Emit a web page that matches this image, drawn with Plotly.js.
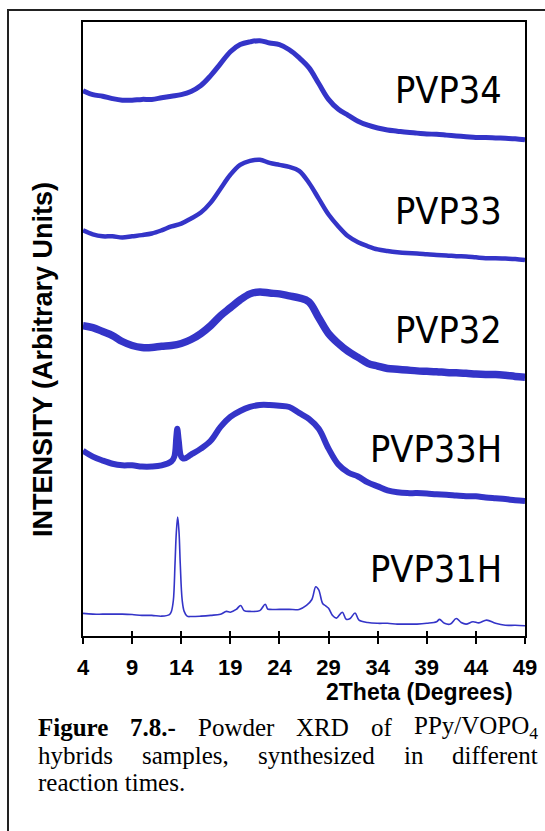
<!DOCTYPE html>
<html>
<head>
<meta charset="utf-8">
<script src="https://cdn.plot.ly/plotly-3.0.1.min.js"></script>
<style>
  html, body { margin: 0; padding: 0; background: #fff; }
  #chart { width: 545px; height: 831px; }
</style>
</head>
<body>
<div id="chart"></div>
<script>
// ---- data (intensity in arbitrary units, stacked offsets as in the figure) ----
const xStep = [4,5,6,7,8,9,10,11,12,13,14,15,16,17,18,19,20,21,22,23,24,25,26,27,28,29,30,31,32,33,34,35,36,37,38,39,40,41,42,43,44,45,46,47,48,49];

const pvp34 = [1374,1364,1360,1354,1350,1350,1352,1352,1356,1360,1364,1372,1387,1412,1442,1472,1490,1497,1500,1494,1490,1477,1457,1432,1392,1352,1327,1312,1297,1287,1280,1275,1272,1269,1267,1265,1264,1262,1260,1258,1256,1256,1255,1254,1253,1250];

const pvp33 = [1022,1012,1007,1007,1004,1007,1010,1014,1022,1032,1039,1052,1067,1092,1127,1162,1187,1197,1200,1192,1187,1182,1172,1142,1102,1062,1032,1007,992,982,974,970,967,965,964,962,960,959,957,956,954,952,952,951,950,947];

const pvp32 = [782,777,767,757,742,732,727,727,730,732,737,747,762,782,807,827,847,862,867,864,862,857,852,842,802,762,737,717,702,687,680,674,672,670,668,667,666,664,663,662,660,659,659,657,654,652];

const x33H = [4,5,6,7,8,9,10,11,12,13,13.3,13.5,13.6,13.75,14,14.3,15,16,17,18,19,20,21,22,23,24,25,26,27,28,29,30,31,32,33,34,35,36,37,38,39,40,41,42,43,44,45,46,47,48,49];
const pvp33H = [467,452,442,434,430,430,427,427,430,440,452,502,522,492,452,447,457,472,492,527,552,567,577,582,582,580,577,562,547,522,472,432,412,402,387,377,367,362,360,360,359,357,356,354,352,352,349,347,345,342,340];

const x31H = [4,5,6,7,8,9,10,11,12,12.8,13.0,13.2,13.37,13.5,13.64,13.78,13.9,14.1,14.3,14.6,15,16,17,18,18.6,19,19.6,20.05,20.4,21,22,22.55,22.8,23,24,25,26,26.75,27.3,27.7,28,28.4,28.7,29,29.4,29.8,30.4,30.8,31.2,31.7,32.1,33,34,35,36,37,38,39,40,40.3,40.8,41.4,42,42.5,43,43.7,44.3,45.1,46,47,48,49];
const pvp31H = [57,55,55,55,55,54,52,52,50,54,62,90,183,260,300,260,183,90,62,50,49,50,52,55,62,60,67,77,64,62,64,80,68,67,67,67,67,77,92,124,116,82,76,70,52,45,60,42,44,58,40,34,32,32,30,30,30,32,36,42,32,30,44,34,30,36,33,40,32,27,27,26];

const sampleNames = ["PVP34","PVP33","PVP32","PVP33H","PVP31H"];
const xTicks = [4,9,14,19,24,29,34,39,44,49];

// ---- styling ----
const blue = '#3434c8';
function tr(x, y, w, shape, xa) {
  return {x: x, y: y, type: 'scatter', mode: 'lines', xaxis: xa || 'x', yaxis: 'y',
          line: {color: blue, width: w, shape: shape, smoothing: 1}, hoverinfo: 'skip', showlegend: false};
}
const traces = [
  tr(xStep, pvp34, 5, 'spline'),
  tr(xStep, pvp33, 4.5, 'spline'),
  tr(xStep, pvp32, 7.5, 'spline'),
  tr(x33H, pvp33H, 6, 'spline'),
  tr(x31H, pvp31H, 1.6, 'spline', 'x2')
];

const L = 83, R = 525, T = 22, B = 636, W = 545, H = 831;
const pw = R - L, ph = B - T;
const px = v => (v - L) / pw;
const py = v => (B - v) / ph;

// text measuring helpers (layout only)
const ctx = document.createElement('canvas').getContext('2d');
function textW(str, size, fam, bold) {
  ctx.font = (bold ? 'bold ' : '') + size + 'px ' + fam;
  return ctx.measureText(str).width;
}
function hasFont(name) {
  const a = textW('PVP33H abcxyz', 100, '"' + name + '", monospace');
  const b = textW('PVP33H abcxyz', 100, 'monospace');
  return Math.abs(a - b) > 0.5;
}
const labelCands = ['DejaVu Sans Condensed', 'Liberation Sans Narrow', 'Roboto Condensed', 'Noto Sans'];
let labelFam = 'Noto Sans';
for (const f of labelCands) { if (hasFont(f)) { labelFam = f; break; } }
const labelSize = Math.round(100 * 132 / textW('PVP33H', 100, '"' + labelFam + '"') * 10) / 10;

const labelY = [90, 211, 330, 449, 569];
const annotations = sampleNames.map((n, i) => ({
  text: n, xref: 'paper', yref: 'paper', x: px(503), y: py(labelY[i]),
  xanchor: 'right', yanchor: 'middle', showarrow: false, borderpad: 0,
  font: {family: labelFam, size: labelSize, color: '#000'}
}));

annotations.push({
  text: '2Theta (Degrees)', xref: 'paper', yref: 'paper', x: px(514), y: py(692),
  xanchor: 'right', yanchor: 'middle', showarrow: false, borderpad: 0,
  font: {family: 'Liberation Sans, Arial, sans-serif', size: 23, weight: 'bold', color: '#000'}
});
annotations.push({
  text: 'INTENSITY (Arbitrary Units)', xref: 'paper', yref: 'paper', x: px(43), y: py(360),
  xanchor: 'center', yanchor: 'middle', textangle: -90, showarrow: false, borderpad: 0,
  font: {family: 'Liberation Sans, Arial, sans-serif', size: 27, weight: 'bold', color: '#000'}
});

// caption, justified between x=37 and x=537 by placing each word
const capSize = 25;
const capFam = '"Liberation Serif", "Times New Roman", serif';
const capLines = [
  {y: 727, justify: true, words: [
    {t: 'Figure', b: true}, {t: '7.8.-', b: true}, {t: 'Powder'}, {t: 'XRD'}, {t: 'of'},
    {t: 'PPy/VOPO', sub: '4'}]},
  {y: 755, justify: true, words: [
    {t: 'hybrids'}, {t: 'samples,'}, {t: 'synthesized'}, {t: 'in'}, {t: 'different'}]},
  {y: 782, justify: false, words: [{t: 'reaction times.'}]}
];
const capL = 37, capR = 537;
capLines.forEach(line => {
  const widths = line.words.map(w => textW(w.t, capSize, capFam, w.b) +
    (w.sub ? textW(w.sub, capSize * 0.7, capFam, false) : 0));
  const total = widths.reduce((a, b) => a + b, 0);
  const gap = line.justify ? (capR - capL - total) / (line.words.length - 1) : 0;
  let cx = capL;
  line.words.forEach((w, i) => {
    let txt = w.t;
    if (w.b) txt = '<b>' + txt + '</b>';
    if (w.sub) txt += '<sub>' + w.sub + '</sub>';
    annotations.push({
      text: txt, xref: 'paper', yref: 'paper', x: px(cx), y: py(line.y),
      xanchor: 'left', yanchor: 'middle', showarrow: false, borderpad: 0,
      font: {family: 'Liberation Serif, Times New Roman, serif', size: capSize, color: '#000'}
    });
    cx += widths[i] + gap;
  });
});

const layout = {
  width: W, height: H,
  margin: {l: L, r: W - R, t: T, b: H - B, pad: 0},
  paper_bgcolor: '#fff', plot_bgcolor: '#fff',
  showlegend: false,
  xaxis: {
    range: [4, 49], tickvals: xTicks, ticktext: xTicks.map(String),
    ticks: 'outside', ticklen: 6, tickwidth: 2, tickcolor: '#000',
    showline: true, mirror: true, linewidth: 2, linecolor: '#000',
    showgrid: false, zeroline: false, ticklabelstandoff: 5,
    tickfont: {family: 'Liberation Sans, Arial, sans-serif', size: 22, weight: 'bold', color: '#000'}
  },
  xaxis2: {
    range: [4, 49], tickvals: xTicks, overlaying: 'x', anchor: 'y', side: 'bottom',
    ticks: 'inside', ticklen: 5, tickwidth: 2, tickcolor: '#000',
    showticklabels: false, showline: false, showgrid: false, zeroline: false
  },
  yaxis: {
    range: [0, 1547], showticklabels: false, ticks: '', showgrid: false, zeroline: false,
    showline: true, mirror: true, linewidth: 2, linecolor: '#000'
  },
  shapes: [{
    type: 'rect', xref: 'paper', yref: 'paper',
    x0: px(8), x1: px(580), y0: py(870), y1: py(10),
    line: {color: '#222', width: 2}, fillcolor: 'rgba(0,0,0,0)', layer: 'below'
  }],
  annotations: annotations
};

Plotly.newPlot('chart', traces, layout, {staticPlot: true, displayModeBar: false});
</script>
</body>
</html>
